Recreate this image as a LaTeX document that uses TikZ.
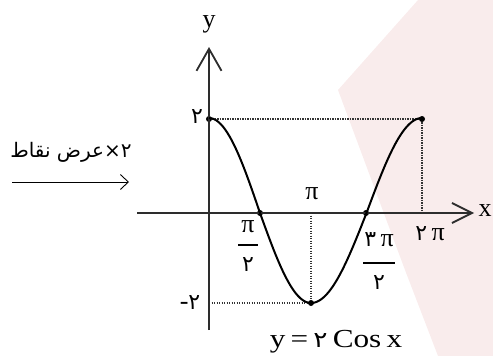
\documentclass[tikz,border=0pt]{standalone}
\usepackage{fontspec}
\setmainfont{Liberation Serif}
\newfontfamily\fa[Script=Arabic]{DejaVu Sans}
\TeXXeTstate=1
\usetikzlibrary{arrows.meta}
\definecolor{wm}{RGB}{249,236,236}
\definecolor{axisc}{RGB}{45,45,45}
\newcommand{\fd}[1]{{\fa\fontsize{22}{24}\selectfont #1}}
\begin{document}
\begin{tikzpicture}[x=1pt,y=-1pt,
  axisline/.style={draw=axisc,line width=1.8pt},
  curveline/.style={draw=black,line width=2pt},
  dotline/.style={draw=black!80,line width=1.3pt,dash pattern=on 1.3pt off 1.2pt},
  pt/.style={circle,fill=black,inner sep=0pt,minimum size=6pt},
  lbl/.style={font=\fontsize{26}{28}\selectfont,inner sep=0pt},
  fadig/.style={font=\fa\fontsize{22}{24}\selectfont,inner sep=0pt}]
\useasboundingbox (0,0) rectangle (493,356);
% watermark
\fill[wm] (418,0) -- (338,90) -- (405,270) -- (438,356) -- (493,356) -- (493,0) -- cycle;
% coordinates
\coordinate (O) at (209,213);
\coordinate (xs) at (137,213);
\coordinate (xe) at (474,213);
\coordinate (ys) at (209,330);
\coordinate (ye) at (209,47);
\coordinate (hl) at (209,303);
\coordinate (pi) at (311,213);
\coordinate (tp) at (422,213);
% dotted guides
\node[pt] (A) at (209,119) {};
\node[pt] (B) at (422,119) {};
\node[pt] (C) at (260,213) {};
\node[pt] (D) at (366,213) {};
\node[pt] (E) at (311,303) {};
\draw[dotline] (A) -- (B);
\draw[dotline] (B) -- (tp);
\draw[dotline] (pi) -- (E);
\draw[dotline] (hl) -- (E);
% axes
\draw[axisline,-{Straight Barb[length=20pt,width=20pt,line width=1.8pt]}] (xs) -- (xe);
\draw[axisline,-{Straight Barb[length=22pt,width=25pt,line width=1.8pt]}] (ys) -- (ye);
% curve
\draw[curveline] plot[domain=0:180,samples=80] ({209+\x*0.566667},{213-95*max(cos(\x),0)-90*min(cos(\x),0)})
  -- plot[domain=180:360,samples=80] ({311+(\x-180)*0.616667},{213-95*max(cos(\x),0)-90*min(cos(\x),0)});
% labels
\node[lbl] (ly) at (209,24) {y};
\node[lbl] (lx) at (485,211) {x};
\node[fadig] (l2) at (197,117) {۲};
\node[lbl] (lm2) at (190,303) {-\fd{۲}};
\node[lbl] (lpi) at (312,194) {π};
\node[lbl] (lpi2n) at (248,227) {π};
\draw[line width=1.2pt] (238,245) -- (258,245);
\node[fadig] (lpi2d) at (248,265) {۲};
\node[lbl] (lp3n) at (379,240) {\fd{۳}\,π};
\draw[line width=1.2pt] (363,263) -- (395,263);
\node[fadig] (lp3d) at (379,283) {۲};
\node[lbl] (l2pi) at (430,234) {\fd{۲}\,π};
\node[lbl] (eq) at (336,342) {\scalebox{1.2}[1]{y\,=\,\fd{۲}\,Cos\,x}};
% left annotation
\node[font=\fa\fontsize{20}{22}\selectfont,inner sep=0pt] (ann) at (71,152) {\beginR ۲×عرض نقاط\endR};
\coordinate (as) at (12,182);
\coordinate (ae) at (129,182);
\draw[line width=0.9pt,-{Straight Barb[length=8pt,width=15pt,line width=0.9pt]}] (as) -- (ae);
\end{tikzpicture}
\end{document}
